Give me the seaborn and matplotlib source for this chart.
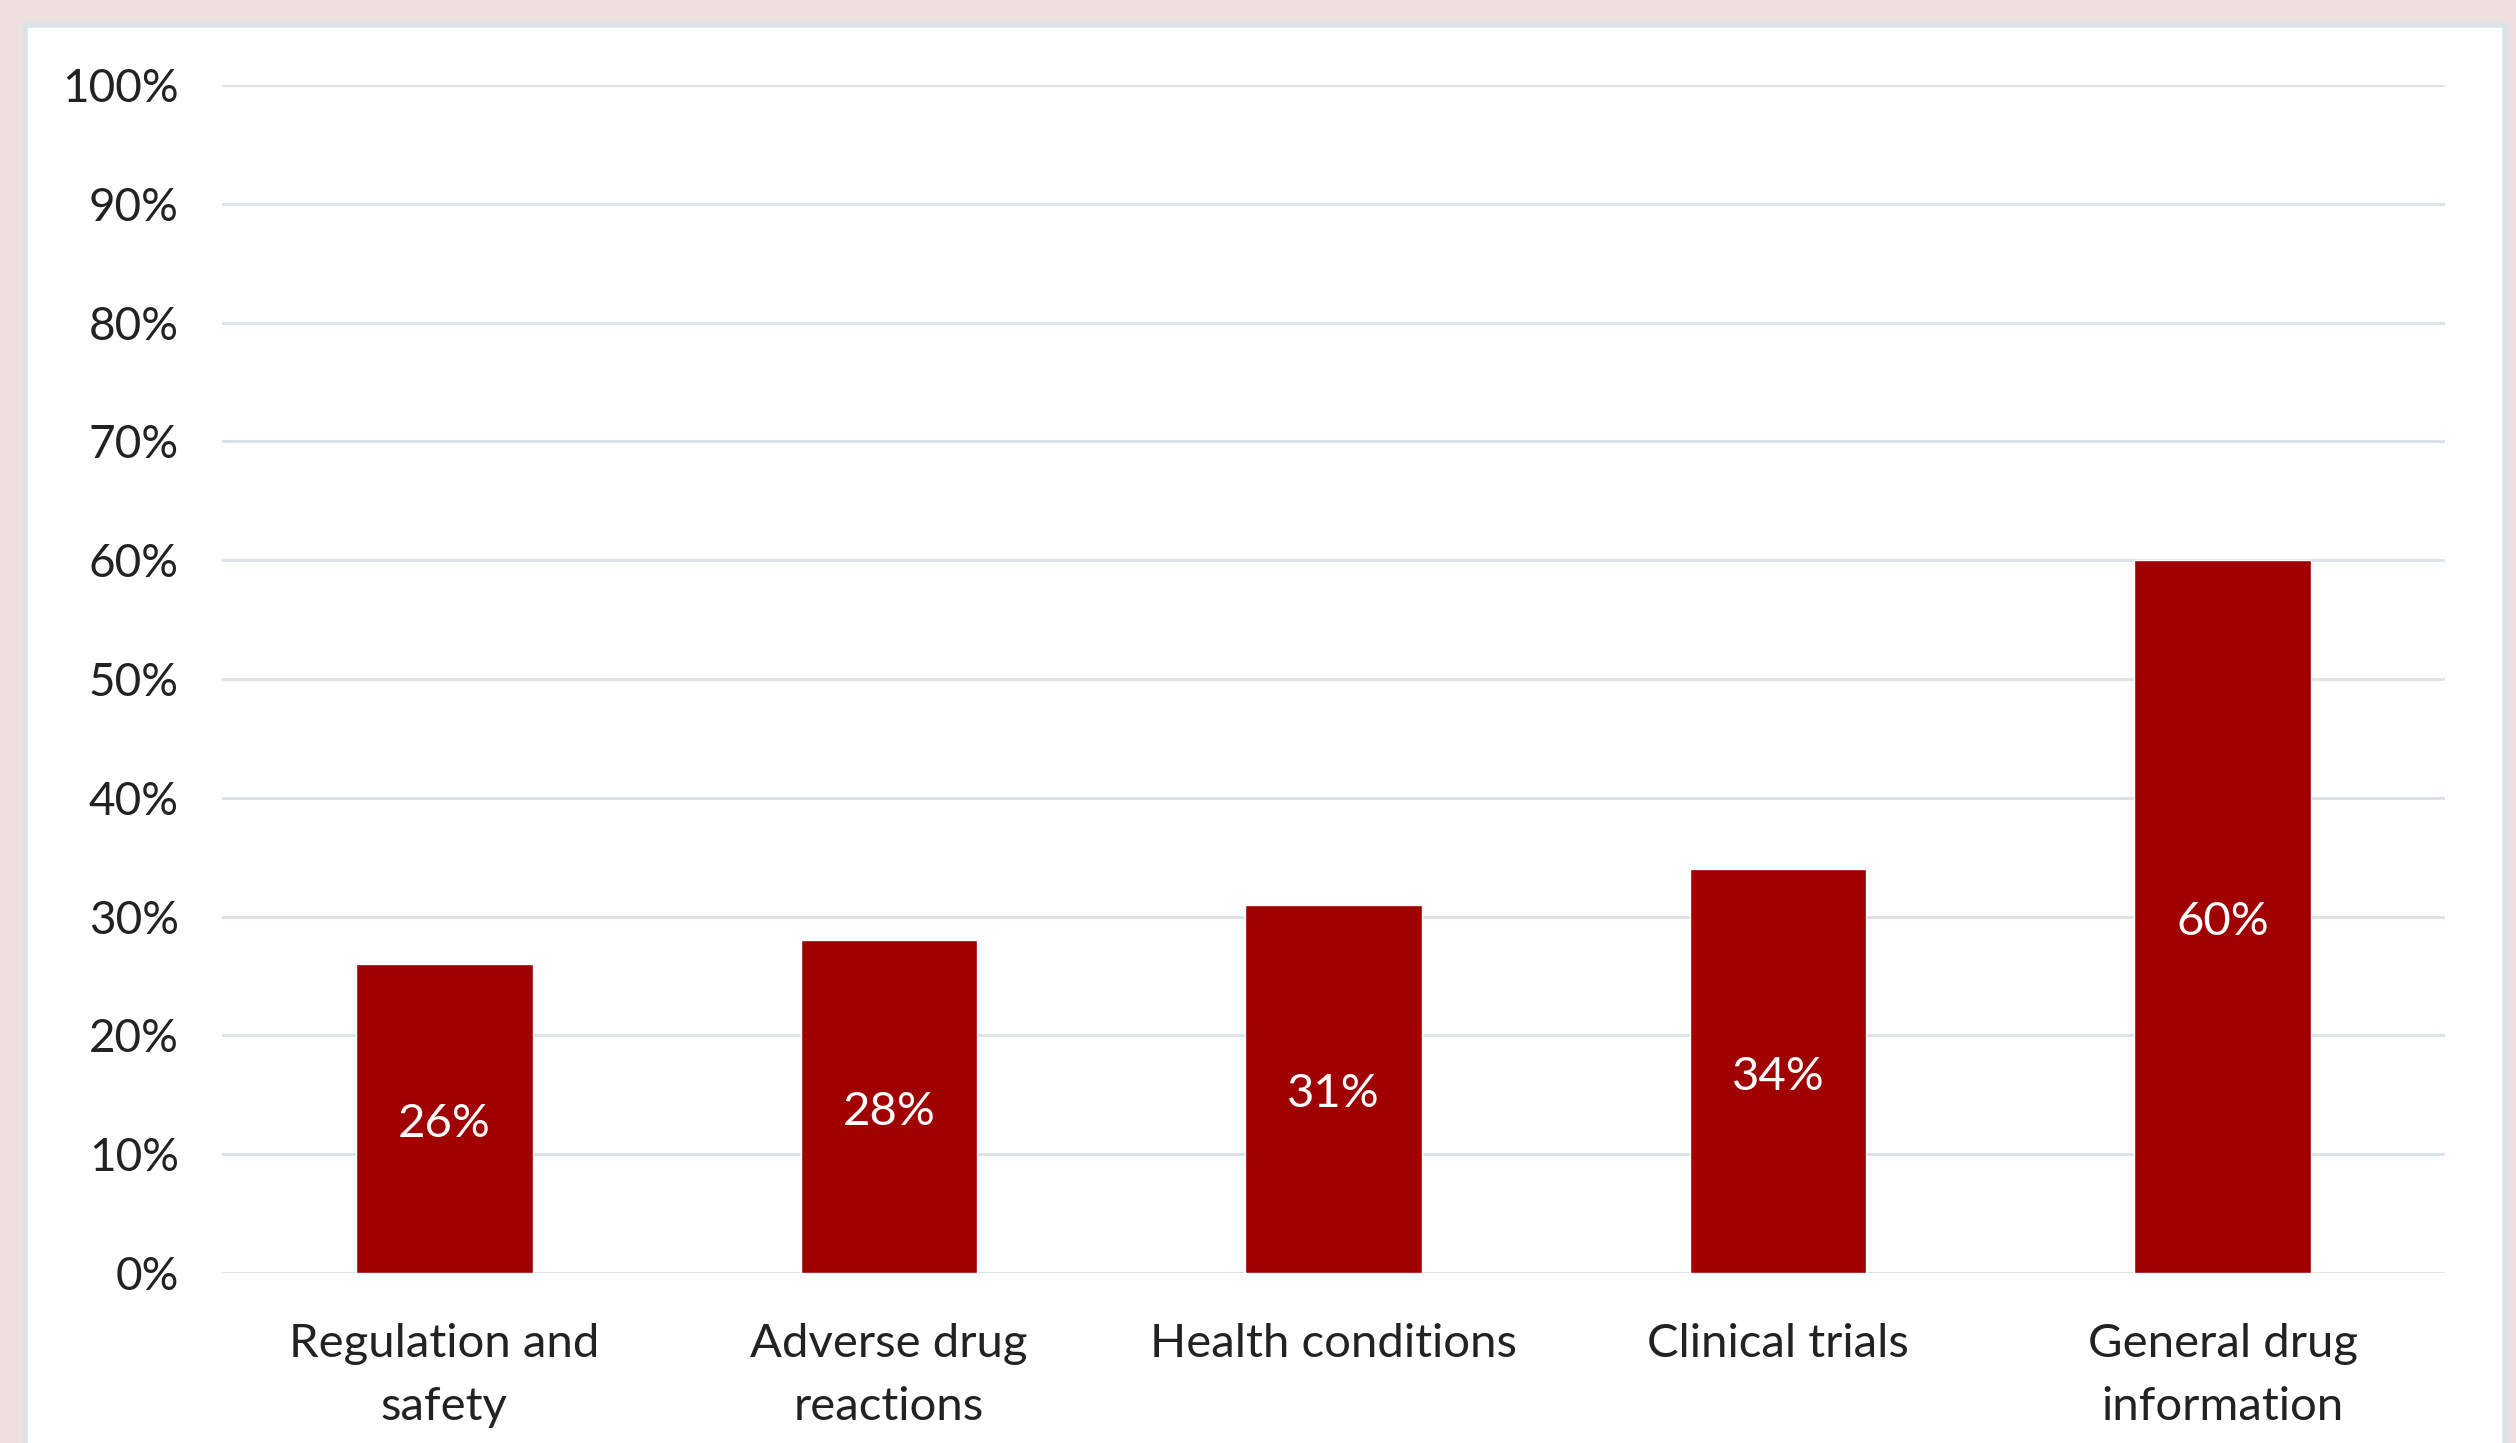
import matplotlib
matplotlib.use("Agg")
import matplotlib.pyplot as plt
import seaborn as sns
import pandas as pd
from matplotlib.patches import Rectangle
from matplotlib.ticker import PercentFormatter

categories = ["Regulation and\nsafety", "Adverse drug\nreactions", "Health conditions",
              "Clinical trials", "General drug\ninformation"]
values = [26, 28, 31, 34, 60]
yticks = [0, 10, 20, 30, 40, 50, 60, 70, 80, 90, 100]

sns.set_theme(style="white")
plt.rcParams['font.family'] = ['Lato', 'DejaVu Sans']

W, H, DPI = 2516, 1443, 100
fig = plt.figure(figsize=(W / DPI, H / DPI), dpi=DPI)
fig.patch.set_facecolor("#EEDFDF")
panel = Rectangle((25 / W, -0.05), (2505 - 25) / W, 1.05 - 25 / H, transform=fig.transFigure,
                  facecolor="white", edgecolor="#DCE2EA", linewidth=4, zorder=-10)
fig.patches.append(panel)

ax = fig.add_axes([222 / W, 1 - 1273 / H, (2445 - 222) / W, (1273 - 85) / H])
ax.set_zorder(5)
ax.set_facecolor("none")

df = pd.DataFrame({"cat": categories, "val": values})
sns.barplot(data=df, x="cat", y="val", color="#A00000", saturation=1, width=0.397, ax=ax, zorder=3)

ax.set_ylim(0, 100)
ax.set_xlim(-0.5, len(categories) - 0.5)
ax.set_yticks(yticks)
ax.yaxis.set_major_formatter(PercentFormatter(decimals=0))
ax.grid(axis="y", color="#DDE2EA", linewidth=2.2, zorder=0)
ax.grid(axis="x", visible=False)
ax.set_axisbelow(True)
for s in ax.spines.values():
    s.set_visible(False)
ax.tick_params(axis="y", length=0, pad=31, labelsize=33, labelcolor="#222222")
ax.tick_params(axis="x", length=0, pad=36, labelsize=34, labelcolor="#222222")
for lbl in ax.get_xticklabels():
    lbl.set_linespacing(1.62)
ax.set_xlabel("")
ax.set_ylabel("")

for i, v in enumerate(values):
    ax.annotate(f"{v}%", xy=(i, v / 2), xytext=(0, -4), textcoords="offset points",
                ha="center", va="center", color="white", fontsize=34, zorder=5)

fig.savefig("out.png", dpi=DPI, facecolor=fig.get_facecolor())
